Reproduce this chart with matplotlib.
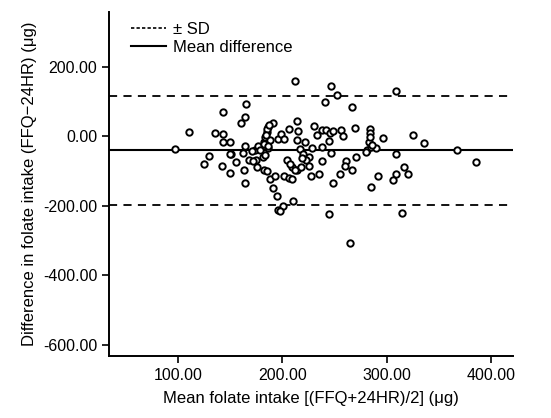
import matplotlib
matplotlib.use("Agg")
import matplotlib.pyplot as plt
from matplotlib.ticker import FormatStrFormatter
from matplotlib.lines import Line2D

plt.rcParams['font.family'] = ['Liberation Sans', 'DejaVu Sans']

# Mean intake (x) and difference FFQ-24HR (y)
mean_intake = [
    97, 111, 135, 143, 143, 165, 164, 160, 143, 150,
    130, 125, 142, 150, 151, 163, 164, 162, 164, 168,
    174, 175, 177, 181, 183, 182, 185, 182, 183, 185,
    186, 191, 188, 186, 188, 193, 191, 195, 196, 196,
    212, 247, 252, 309, 241, 267, 185, 214, 230, 215,
    206, 199, 202, 214, 171, 233, 238, 242, 246, 249,
    245, 256, 258, 270, 284, 284, 283, 296, 325, 336,
    238, 217, 220, 228, 226, 223, 219, 247, 238, 261,
    260, 271, 267, 281, 285, 290, 309, 317, 309, 320,
    306, 292, 285, 255, 235, 249, 227, 209, 214, 204,
    207, 202, 206, 209, 210, 201, 198, 245, 315, 179,
    184, 265, 187, 182, 186, 226, 218, 212, 284, 286,
    280, 222, 150, 156, 172, 176, 367, 386,
]
difference = [
    -38, 12, 9, 6, 70, 92, 54, 37, -16, -16,
    -58, -81, -85, -106, -52, -98, -134, -48, -28, -69,
    -40, -69, -29, -60, -55, -98, -100, -16, -2, 12,
    27, 37, -12, -35, -122, -115, -148, -173, -7, -213,
    158, 145, 119, 130, 99, 83, 22, 43, 30, 14,
    20, 6, -7, -12, -42, 3, 17, 17, 8, 14,
    -14, 19, 0, 24, 22, 9, -16, -5, 3, -19,
    -31, -38, -50, -35, -60, -69, -64, -48, -71, -71,
    -86, -60, -96, -40, -31, -35, -50, -88, -109, -109,
    -125, -115, -147, -109, -109, -134, -114, -88, -96, -69,
    -79, -115, -119, -124, -187, -201, -216, -224, -221, -40,
    3, -307, 33, -22, -28, -86, -88, -96, -2, -26,
    -45, -18, -50, -75, -72, -90, -40, -74,
]

mean_diff = -40
sd_upper = 115
sd_lower = -199

x_ticks = [100, 200, 300, 400]
y_ticks = [-600, -400, -200, 0, 200]

fig = plt.figure(figsize=(5.51, 4.18), dpi=100)
ax = fig.add_axes([0.198, 0.148, 0.733, 0.823])

ax.plot(mean_intake, difference, linestyle='none', marker='o', markersize=4.6,
        markerfacecolor='white', markeredgecolor='black', markeredgewidth=1.4, zorder=3)

ax.axhline(mean_diff, color='black', linewidth=1.5, zorder=2)
ax.axhline(sd_upper, color='black', linewidth=1.3, linestyle=(0, (4.5, 3.5)), zorder=2)
ax.axhline(sd_lower, color='black', linewidth=1.3, linestyle=(0, (4.5, 3.5)), zorder=2)

ax.set_xlim(34, 421)
ax.set_ylim(-633, 357)
ax.set_xticks(x_ticks)
ax.set_yticks(y_ticks)
ax.xaxis.set_major_formatter(FormatStrFormatter('%.2f'))
ax.yaxis.set_major_formatter(FormatStrFormatter('%.2f'))
ax.tick_params(labelsize=11.5, length=5, width=1.2, direction='out', color='black')
for s in ['top', 'right']:
    ax.spines[s].set_visible(False)
for s in ['left', 'bottom']:
    ax.spines[s].set_linewidth(1.4)

ax.set_xlabel('Mean folate intake [(FFQ+24HR)/2] (μg)', fontsize=12, labelpad=6)
ax.set_ylabel('Difference in folate intake (FFQ\u221224HR) (μg)', fontsize=12, labelpad=4)

handles = [
    Line2D([], [], color='black', linewidth=1.2, linestyle=(0, (2.0, 1.3))),
    Line2D([], [], color='black', linewidth=1.5),
]
ax.legend(handles, ['± SD', 'Mean difference'], loc='upper left',
          bbox_to_anchor=(0.03, 1.0), frameon=False, fontsize=12,
          handlelength=2.1, handletextpad=0.4, labelspacing=0.15, borderaxespad=0.2)

fig.savefig('out.png', dpi=100)
